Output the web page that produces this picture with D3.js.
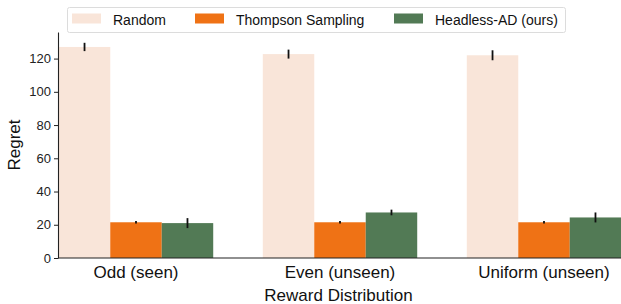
<!DOCTYPE html>
<html>
<head>
<meta charset="utf-8">
<script src="https://cdn.jsdelivr.net/npm/d3@7"></script>
<style>
  body { margin: 0; background: #fff; }
  svg { font-family: "Liberation Sans", Arial, sans-serif; }
</style>
</head>
<body>
<div id="viz"></div>
<script>
const width = 621;
const height = 304;
const margin = {top: 32, right: 0, bottom: 46, left: 58};

const categories = ['Odd (seen)', 'Even (unseen)', 'Uniform (unseen)'];
const methods = ['Random', 'Thompson Sampling', 'Headless-AD (ours)'];
const colors = ['#f9e5d9', '#ef7215', '#527a55'];
// mean regret per category, one array per method
const randomMean = [127, 122.7, 122];
const thompsonMean = [21.5, 21.5, 21.5];
const headlessMean = [21, 27.4, 24.4];
// half-length of the error bars
const randomErr = [2.5, 2.7, 3];
const thompsonErr = [0.8, 0.8, 0.7];
const headlessErr = [3, 1.7, 3];
const yTicks = [0, 20, 40, 60, 80, 100, 120];

const means = [randomMean, thompsonMean, headlessMean];
const errs = [randomErr, thompsonErr, headlessErr];

const data = [];
categories.forEach((c, i) => {
  methods.forEach((m, j) => {
    data.push({cat: c, method: m, value: means[j][i], err: errs[j][i], color: colors[j]});
  });
});

const svg = d3.select('#viz')
  .append('svg')
    .attr('width', width)
    .attr('height', height);

const y = d3.scaleLinear()
  .domain([0, 136])
  .range([height - margin.bottom, margin.top]);

// categories centred at 136, 340, 544
const x0 = d3.scaleBand()
  .domain(categories)
  .range([34, 646])
  .paddingInner(0.243)
  .paddingOuter(0.1215);

const x1 = d3.scaleBand()
  .domain(methods)
  .range([0, x0.bandwidth()]);

// bars
svg.append('g')
  .selectAll('rect')
  .data(data)
  .join('rect')
    .attr('x', d => x0(d.cat) + x1(d.method))
    .attr('y', d => y(d.value))
    .attr('width', x1.bandwidth())
    .attr('height', d => y(0) - y(d.value))
    .attr('fill', d => d.color);

// error bars
svg.append('g')
  .selectAll('line')
  .data(data)
  .join('line')
    .attr('x1', d => x0(d.cat) + x1(d.method) + x1.bandwidth() / 2)
    .attr('x2', d => x0(d.cat) + x1(d.method) + x1.bandwidth() / 2)
    .attr('y1', d => y(d.value - d.err))
    .attr('y2', d => y(d.value + d.err))
    .attr('stroke', '#111')
    .attr('stroke-width', 1.8);

// y axis
const axisLeft = d3.axisLeft(y)
  .tickValues(yTicks)
  .tickSize(4)
  .tickSizeOuter(0);
const yAxis = svg.append('g')
  .attr('transform', `translate(${margin.left},0)`)
  .call(axisLeft);
yAxis.selectAll('text')
  .style('font-size', '13px')
  .style('font-family', '"Liberation Sans", Arial, sans-serif')
  .attr('fill', '#222');
yAxis.select('.domain').attr('stroke', '#222').attr('stroke-width', 1.1);
yAxis.selectAll('.tick line').attr('stroke', '#222');

// x axis
const axisBottom = d3.axisBottom(x0)
  .tickSize(0)
  .tickPadding(8);
const xAxis = svg.append('g')
  .attr('transform', `translate(0,${height - margin.bottom})`)
  .call(axisBottom);
xAxis.select('.domain').remove();
xAxis.selectAll('text')
  .style('font-size', '17px')
  .style('font-family', '"Liberation Sans", Arial, sans-serif')
  .attr('fill', '#111');
svg.append('line')
  .attr('x1', margin.left)
  .attr('x2', width - margin.right)
  .attr('y1', y(0))
  .attr('y2', y(0))
  .attr('stroke', '#222')
  .attr('stroke-width', 1.1);

// axis labels
svg.append('text')
  .attr('x', (margin.left + width) / 2 - 1)
  .attr('y', 301)
  .attr('text-anchor', 'middle')
  .style('font-size', '17px')
  .attr('fill', '#111')
  .text('Reward Distribution');
svg.append('text')
  .attr('transform', `translate(20,${(y(0) + y(136)) / 2}) rotate(-90)`)
  .attr('text-anchor', 'middle')
  .style('font-size', '17px')
  .attr('fill', '#111')
  .text('Regret');

// legend
const legend = svg.append('g');
legend.append('rect')
  .attr('x', 67.5)
  .attr('y', 7.5)
  .attr('width', 498)
  .attr('height', 25)
  .attr('rx', 2)
  .attr('fill', '#fff')
  .attr('stroke', '#dcdcdc');
const legendX = [72, 195, 394];
const items = legend.selectAll('g.item')
  .data(methods)
  .join('g')
    .attr('class', 'item')
    .attr('transform', (d, i) => `translate(${legendX[i]},0)`);
items.append('rect')
  .attr('x', 0)
  .attr('y', 13.5)
  .attr('width', 29)
  .attr('height', 10)
  .attr('fill', (d, i) => colors[i]);
items.append('text')
  .attr('x', 41)
  .attr('y', 24.5)
  .style('font-size', '14px')
  .attr('fill', '#111')
  .text(d => d);
</script>
</body>
</html>
